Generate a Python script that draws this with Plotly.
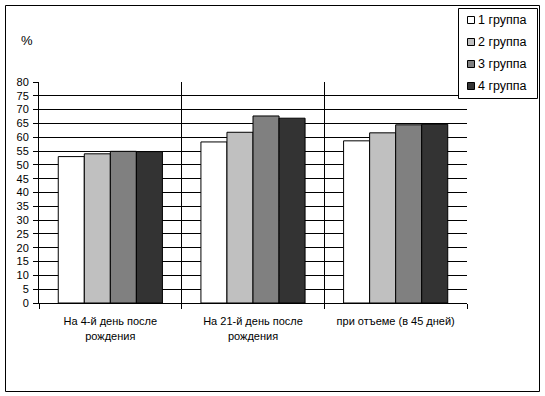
import plotly.graph_objects as go

categories = ["На 4-й день после<br>рождения", "На 21-й день после<br>рождения", "при отъеме (в 45 дней)"]
series_names = ["1 группа", "2 группа", "3 группа", "4 группа"]
group1 = [53.0, 58.3, 58.7]
group2 = [54.0, 61.8, 61.6]
group3 = [54.9, 67.7, 64.5]
group4 = [54.8, 66.9, 64.7]
series_values = [group1, group2, group3, group4]
colors = ["#FFFFFF", "#C0C0C0", "#808080", "#333333"]

W, H = 545, 396
L, R, T, B = 39, 467, 82, 303

fig = go.Figure()
for i, (name, vals) in enumerate(zip(series_names, series_values)):
    fig.add_trace(go.Bar(
        x=categories, y=vals, name=name,
        marker=dict(color=colors[i], line=dict(color="black", width=1)),
        showlegend=False,
    ))

def px_x(p):
    return (p - L) / (R - L)

def px_y(p):
    return (B - p) / (B - T)

shapes = [
    dict(type="rect", xref="paper", yref="paper",
         x0=px_x(5.5), x1=px_x(539.5), y0=px_y(391.5), y1=px_y(5.5),
         line=dict(color="black", width=1), fillcolor="rgba(0,0,0,0)"),
    dict(type="rect", xref="paper", yref="paper",
         x0=px_x(458.5), x1=px_x(537.5), y0=px_y(98.5), y1=px_y(8.5),
         line=dict(color="black", width=1), fillcolor="white", layer="above"),
]
annotations = [dict(
    text="%", xref="paper", yref="paper", x=px_x(27), y=px_y(40),
    showarrow=False, font=dict(size=13), xanchor="center", yanchor="middle",
)]
row_y = [20, 42, 64, 86]
for i, name in enumerate(series_names):
    cy = row_y[i]
    shapes.append(dict(
        type="rect", xref="paper", yref="paper",
        x0=px_x(467.5), x1=px_x(474.5), y0=px_y(cy + 3.5), y1=px_y(cy - 3.5),
        line=dict(color="black", width=1), fillcolor=colors[i], layer="above"))
    annotations.append(dict(
        text=name, xref="paper", yref="paper", x=px_x(476), y=px_y(cy),
        showarrow=False, font=dict(size=12.5), xanchor="left", yanchor="middle"))

fig.update_layout(
    width=W, height=H,
    margin=dict(l=L, r=W - R, t=T, b=H - B, autoexpand=False),
    paper_bgcolor="white", plot_bgcolor="white",
    barmode="group", bargap=0.27, bargroupgap=0,
    font=dict(family="Liberation Sans, Arial, sans-serif", size=11, color="black"),
    showlegend=False,
    xaxis=dict(
        type="category", tickson="boundaries", showgrid=True,
        gridcolor="black", gridwidth=1, showline=True, linecolor="black",
        ticks="outside", ticklen=5, tickcolor="black", tickangle=0,
        zeroline=False, ticklabelstandoff=8,
    ),
    yaxis=dict(
        range=[0, 80], dtick=5, showgrid=True, gridcolor="black", gridwidth=1,
        showline=True, linecolor="black", ticks="outside", ticklen=5,
        tickcolor="black", zeroline=False, ticklabelstandoff=2,
    ),
    shapes=shapes,
    annotations=annotations,
)

fig.write_html("out.html", config={"displayModeBar": False},
               post_script="document.body.style.margin='0';")
